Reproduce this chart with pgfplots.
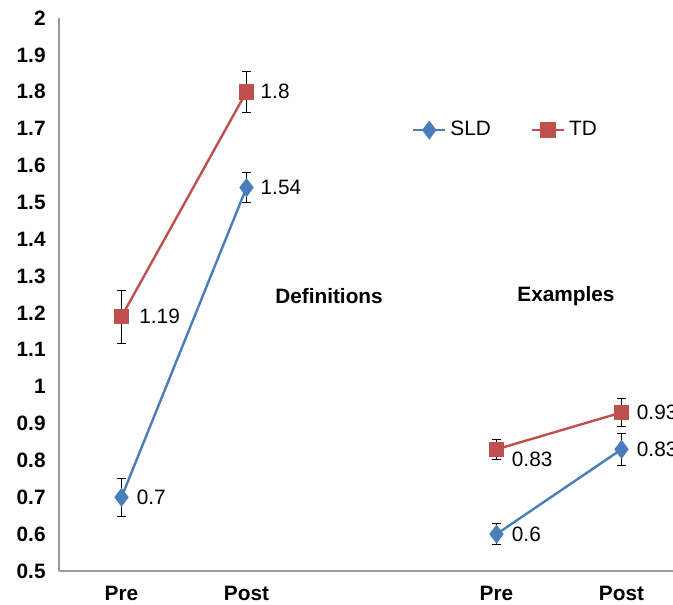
\documentclass[border=0pt]{standalone}
\usepackage{pgfplots}
\pgfplotsset{compat=1.18}
\usepackage{fontspec}
\setmainfont{Liberation Sans}
\definecolor{sldblue}{HTML}{4A7EBB}
\definecolor{tdred}{HTML}{C0504D}
\begin{document}
\begin{tikzpicture}
\useasboundingbox (-29.5pt,-16.5pt) rectangle (307pt,285.5pt);
\clip (-29.5pt,-16.5pt) rectangle (307pt,285.5pt);
\begin{axis}[
  at={(0,0)}, anchor=south west,
  scale only axis, width=307pt, height=276.5pt,
  xmin=0.5, xmax=5.412, ymin=0.5, ymax=2,
  axis x line=bottom, axis y line=left,
  axis line style={-, draw=gray!80, line width=0.6pt},
  clip=false,
  xtick={1,2,4,5}, xticklabels={Pre,Post,Pre,Post},
  ytick={0.5,0.6,...,2.01},
  yticklabels={0.5,0.6,0.7,0.8,0.9,1,1.1,1.2,1.3,1.4,1.5,1.6,1.7,1.8,1.9,2},
  major tick length=0pt,
  tick label style={font=\fontsize{10.4}{12}\selectfont\bfseries},
  yticklabel style={xshift=-6.5pt, anchor=east, inner sep=0pt},
  xticklabel style={yshift=-6.3pt, inner sep=1pt},
  /pgf/number format/assume math mode=true,
  legend style={at={(axis cs:4.08,1.696)}, anchor=center, draw=none, fill=none,
    legend columns=2, font=\fontsize{10.4}{12}\selectfont,
    /tikz/every even column/.append style={column sep=18pt}},
  legend image code/.code={
    \draw[#1, mark repeat=2, mark phase=2] plot coordinates {(0cm,0cm) (0.28cm,0cm) (0.56cm,0cm)};},
]
% SLD
\addplot[sldblue, line width=1.2pt, mark=diamond*, mark size=3.8pt, mark options={fill=sldblue, draw=sldblue},
  error bars/.cd, y dir=both, y explicit, error bar style={black, line width=0.5pt}, error mark options={rotate=90, black, mark size=2.2pt, line width=0.5pt}]
  coordinates {(1,0.7) +- (0,0.051) (2,1.54) +- (0,0.04)};
\addlegendentry{SLD}
\addplot[tdred, line width=1.2pt, mark=square*, mark size=3.3pt, mark options={fill=tdred, draw=tdred},
  error bars/.cd, y dir=both, y explicit, error bar style={black, line width=0.5pt}, error mark options={rotate=90, black, mark size=2.2pt, line width=0.5pt}]
  coordinates {(1,1.19) +- (0,0.072) (2,1.8) +- (0,0.056)};
\addlegendentry{TD}
\addplot[forget plot, sldblue, line width=1.2pt, mark=diamond*, mark size=3.8pt, mark options={fill=sldblue, draw=sldblue},
  error bars/.cd, y dir=both, y explicit, error bar style={black, line width=0.5pt}, error mark options={rotate=90, black, mark size=2.2pt, line width=0.5pt}]
  coordinates {(4,0.6) +- (0,0.029) (5,0.83) +- (0,0.043)};
\addplot[forget plot, tdred, line width=1.2pt, mark=square*, mark size=3.3pt, mark options={fill=tdred, draw=tdred},
  error bars/.cd, y dir=both, y explicit, error bar style={black, line width=0.5pt}, error mark options={rotate=90, black, mark size=2.2pt, line width=0.5pt}]
  coordinates {(4,0.83) +- (0,0.027) (5,0.93) +- (0,0.039)};
% data labels
\begin{scope}[every node/.style={font=\fontsize{10.4}{12}\selectfont, anchor=west, inner sep=0pt}]
\node at (axis cs:1.12,0.7) {0.7};
\node at (axis cs:2.11,1.54) {1.54};
\node at (axis cs:1.14,1.19) {1.19};
\node at (axis cs:2.11,1.8) {1.8};
\node at (axis cs:4.12,0.6) {0.6};
\node at (axis cs:4.12,0.802) {0.83};
\node at (axis cs:5.12,0.83) {0.83};
\node at (axis cs:5.12,0.93) {0.93};
\end{scope}
\node[font=\fontsize{10.4}{12}\selectfont\bfseries] at (axis cs:2.66,1.246) {Definitions};
\node[font=\fontsize{10.4}{12}\selectfont\bfseries] at (axis cs:4.556,1.246) {Examples};
\end{axis}
\end{tikzpicture}
\end{document}
